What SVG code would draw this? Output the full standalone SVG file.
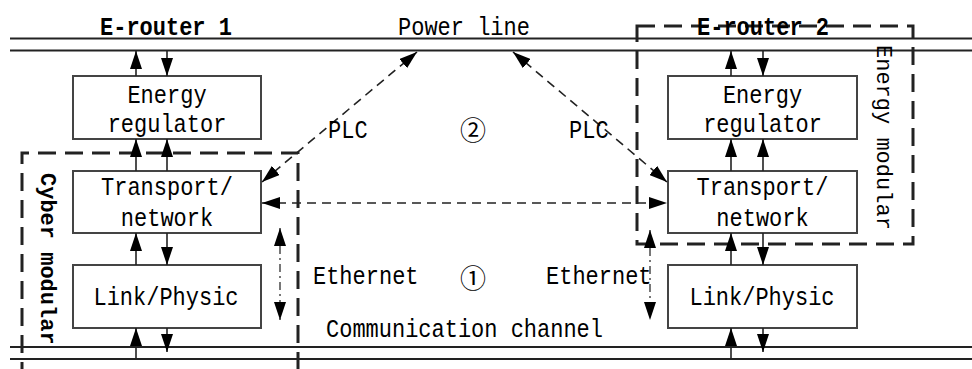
<svg xmlns="http://www.w3.org/2000/svg" width="972" height="369" viewBox="0 0 972 369">
<style>
text{font-family:"Liberation Mono","DejaVu Sans Mono",monospace;font-size:22px;fill:#000}
.t{transform-box:fill-box;transform-origin:50% 50%;transform:scaleY(1.15)}
.b{font-weight:bold}
.c{text-anchor:middle}
.circ{font-family:"Noto Sans CJK SC","DejaVu Sans",sans-serif;font-size:26px;text-anchor:middle;dominant-baseline:central}
.box{fill:#fff;stroke:#444;stroke-width:2}
.bus{stroke:#222;stroke-width:1.8;fill:none}
.mod{fill:none;stroke:#222;stroke-width:3;stroke-dasharray:18 9}
.sa{stroke:#222;stroke-width:1.6;fill:none;marker-end:url(#ah)}
.da{stroke:#222;stroke-width:1.6;fill:none;stroke-dasharray:9 6;marker-start:url(#ah);marker-end:url(#ah)}
.dd{stroke:#555;stroke-width:1.6;fill:none;stroke-dasharray:8 4 2 4;marker-start:url(#ah);marker-end:url(#ah)}
</style>
<defs>
<marker id="ah" viewBox="0 0 18 12" refX="18" refY="6" markerWidth="18" markerHeight="12" markerUnits="userSpaceOnUse" orient="auto-start-reverse">
<path d="M0,0 L18,6 L0,12 z" fill="#000"/>
</marker>
</defs>
<rect width="972" height="369" fill="#fff"/>
<g id="power-line">
<line class="bus" x1="10" y1="38.5" x2="972" y2="38.5"/>
<line class="bus" x1="10" y1="50.5" x2="972" y2="50.5"/>
<text class="c t" x="464" y="34">Power line</text>
</g>
<g id="comm-channel">
<line class="bus" x1="10" y1="347" x2="972" y2="347"/>
<line class="bus" x1="10" y1="359" x2="972" y2="359"/>
<text class="t" x="326" y="336">Communication channel</text>
</g>
<g id="cyber-modular">
<path class="mod" d="M22,380 V153 H298 V380"/>
<text class="b" transform="translate(41,173) rotate(90)">Cyber modular</text>
</g>
<g id="energy-modular">
<rect class="mod" x="637" y="26" width="276" height="218"/>
<text transform="translate(877,45) rotate(90)">Energy modular</text>
</g>
<g id="e-router-1-label"><text class="b c t" x="166" y="34">E-router 1</text></g>
<g id="e-router-2-label"><text class="b c t" x="763" y="34">E-router 2</text></g>
<g id="energy-regulator-1">
<rect class="box" x="73" y="76" width="188" height="63"/>
<text class="c t" x="167" y="102">Energy</text>
<text class="c t" x="167" y="131">regulator</text>
</g>
<g id="transport-1">
<rect class="box" x="73" y="171" width="188" height="62"/>
<text class="c t" x="167" y="194">Transport/</text>
<text class="c t" x="167" y="225">network</text>
</g>
<g id="link-1">
<rect class="box" x="73" y="265" width="188" height="63"/>
<text class="c t" x="166" y="304">Link/Physic</text>
</g>
<g id="energy-regulator-2">
<rect class="box" x="668" y="76" width="189" height="63"/>
<text class="c t" x="762.5" y="102">Energy</text>
<text class="c t" x="762.5" y="131">regulator</text>
</g>
<g id="transport-2">
<rect class="box" x="668" y="171" width="189" height="62"/>
<text class="c t" x="762.5" y="194">Transport/</text>
<text class="c t" x="762.5" y="225">network</text>
</g>
<g id="link-2">
<rect class="box" x="668" y="265" width="189" height="63"/>
<text class="c t" x="762" y="304">Link/Physic</text>
</g>
<g id="connectors">
<line class="sa" x1="136" y1="76" x2="136" y2="51"/>
<line class="sa" x1="167" y1="51" x2="167" y2="76"/>
<line class="sa" x1="136" y1="171" x2="136" y2="139"/>
<line class="sa" x1="167" y1="171" x2="167" y2="139"/>
<line class="sa" x1="136" y1="265" x2="136" y2="233"/>
<line class="sa" x1="167" y1="233" x2="167" y2="265"/>
<line class="sa" x1="136" y1="359" x2="136" y2="328"/>
<line class="sa" x1="167" y1="328" x2="167" y2="352"/>
<line class="sa" x1="731" y1="76" x2="731" y2="51"/>
<line class="sa" x1="763" y1="51" x2="763" y2="76"/>
<line class="sa" x1="731" y1="171" x2="731" y2="139"/>
<line class="sa" x1="763" y1="171" x2="763" y2="139"/>
<line class="sa" x1="731" y1="265" x2="731" y2="233"/>
<line class="sa" x1="763" y1="233" x2="763" y2="265"/>
<line class="sa" x1="731" y1="359" x2="731" y2="328"/>
<line class="sa" x1="763" y1="328" x2="763" y2="352"/>
<line class="da" x1="262" y1="182" x2="417" y2="52"/>
<line class="da" x1="513" y1="52" x2="667" y2="182"/>
<line class="da" x1="262" y1="203" x2="667" y2="203"/>
<line class="dd" x1="280" y1="228" x2="280" y2="320"/>
<line class="dd" x1="650" y1="230" x2="650" y2="320"/>
</g>
<g id="labels">
<text class="t" x="328" y="137">PLC</text>
<text class="t" x="569" y="137">PLC</text>
<text class="circ" x="473" y="128">②</text>
<text class="t" x="313" y="283">Ethernet</text>
<text class="t" x="546" y="283">Ethernet</text>
<text class="circ" x="473" y="276">①</text>
</g>
</svg>
